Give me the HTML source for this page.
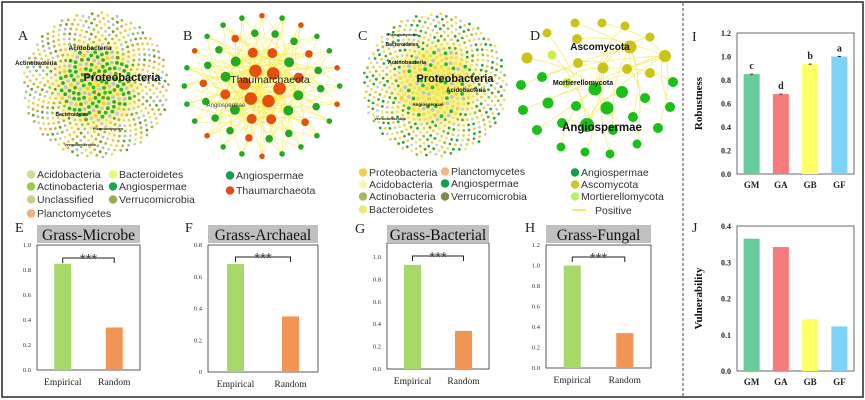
<!DOCTYPE html>
<html><head><meta charset="utf-8"><style>
html,body{margin:0;padding:0;background:#fff;}
svg{display:block;}
.sans{font-family:"Liberation Sans",sans-serif;}
.serif{font-family:"Liberation Serif",serif;}
</style></head><body>
<svg id="fig" width="865" height="400" viewBox="0 0 865 400" xmlns="http://www.w3.org/2000/svg">
<defs>
<radialGradient id="haze" cx="50%" cy="50%" r="50%">
<stop offset="0" stop-color="#f5ee40" stop-opacity="0.9"/>
<stop offset="0.6" stop-color="#f2ef70" stop-opacity="0.6"/>
<stop offset="1" stop-color="#ffffff" stop-opacity="0"/>
</radialGradient>
</defs>
<rect x="2" y="2" width="861" height="395" fill="none" stroke="#333" stroke-width="1.6"/>
<line x1="683" y1="3" x2="683" y2="397" stroke="#444" stroke-width="1" stroke-dasharray="3,2"/>
<g id="nets"></g>
<g id="legends" class="sans" font-size="10.5" fill="#333"></g>
<g id="bars"></g>
<g id="right"></g>
</svg>
<script>
// ---------- chart data ----------
const barCategories = ["Empirical","Random"];
const microbeValues = [0.85, 0.34];
const archaealValues = [0.68, 0.35];
const bacterialValues = [0.93, 0.34];
const fungalValues = [1.0, 0.34];
const ticksE = [0,0.2,0.4,0.6,0.8,1.0];
const ticksF = [0,0.2,0.4,0.6,0.8];
const ticksG = [0,0.2,0.4,0.6,0.8,1.0];
const ticksH = [0,0.2,0.4,0.6,0.8,1.0,1.2];
const groupCategories = ["GM","GA","GB","GF"];
const robustnessValues = [0.85, 0.68, 0.935, 1.0];
const robustnessLetters = ["c","d","b","a"];
const robustnessTicks = [0,0.2,0.4,0.6,0.8,1.0,1.2];
const vulnerabilityValues = [0.365, 0.342, 0.143, 0.123];
const vulnerabilityTicks = [0,0.1,0.2,0.3,0.4];

const NS="http://www.w3.org/2000/svg";
function mk(tag, attrs, parent){const e=document.createElementNS(NS,tag);for(const k in attrs)e.setAttribute(k,attrs[k]);if(parent)parent.appendChild(e);return e;}
function txt(s, attrs, parent){const e=mk("text",attrs,parent);e.textContent=s;return e;}

// ---------- networks ----------
const nets=document.getElementById("nets");
function dense(cx,cy,R,N,palette,inner,id){
  const g=mk("g",{},nets);
  
  
  const h=mk("circle",{cx:cx,cy:cy,r:R*0.85,fill:"url(#haze)"},g);
  
  
  for(let i=0;i<N;i++){
    const r=R*Math.sqrt((i+0.5)/N), t=i*2.39996;
    let col=palette[(i*7)%palette.length];
    if(r<R*0.5 && (i%3)!==0) col=inner[i%inner.length];
    const d=mk("circle",{cx:(cx+r*Math.cos(t)).toFixed(1),cy:(cy+r*Math.sin(t)).toFixed(1),r:(r<R*0.5?1.9:1.4),fill:col},g);
    
    
  }
  return g;
}
const gA=dense(96,85,73,620,["#f0d040","#8cc63f","#e8a040","#c8c8d8","#a0c040","#e0e860","#6a9a30","#f0c848","#b5b5c5"],["#22b83a","#22b83a","#c0c0d0","#2aa840"],"network-a");
const gC=dense(435,85,72,620,["#f0d040","#8cc63f","#2aa840","#f0e060","#c8c8d8","#6a9a30","#f4e070","#1ea838","#e8d050"],["#f0e040","#22b83a","#c0c0d0","#f6e858"],"network-c");
function netLabel(s,x,y,fs,parent){const t=txt(s,{x:x,y:y,"font-size":fs,"font-weight":"bold",fill:"#111","text-anchor":"middle",class:"sans"},parent);return t;}
netLabel("Acidobacteria",90,50,6.5,gA);netLabel("Actinobacteria",36,65,6,gA);netLabel("Proteobacteria",122,81,11,gA);
netLabel("Bacteroidetes",72,116,5,gA);netLabel("Planctomycetes",108,130,4,gA);netLabel("Verrucomicrobia",80,146,4,gA);
netLabel("Planctomycetes",403,36,4,gC);netLabel("Bacteroidetes",402,46,5,gC);netLabel("Actinobacteria",407,64,5.5,gC);
netLabel("Proteobacteria",455,82,11,gC);netLabel("Acidobacteria",466,92,6,gC);netLabel("Angiospermae",428,106,4.5,gC);netLabel("Verrucomicrobia",390,120,4,gC);

// network B
const gB=mk("g",{},nets);


const bNodes=[];
const rings=[[74,24,2.8,"GRGGGGRGGRGGGGRGGGRGRGGR"],[56,18,3.8,"GRGGRGGGRGGRGGGRGG"],[36,12,5,"GRRGRGGRRGRG"],[17,6,6.3,"RRRRRR"]];
rings.forEach((rg,ri)=>{for(let k=0;k<rg[1];k++){const a=k/rg[1]*Math.PI*2+ri*0.4;bNodes.push({x:262+rg[0]*Math.cos(a)*1.05,y:86+rg[0]*Math.sin(a)*0.95,r:rg[2],c:rg[3][k]==="R"?"#e5500a":"#22aa22"});}});
const inner=bNodes.filter(n=>n.r>4.5);
bNodes.forEach((n,i)=>{for(let j=0;j<4;j++){const m=inner[(i*5+j*3)%inner.length];const mx=(n.x+m.x)/2+(j%2?8:-8),my=(n.y+m.y)/2+(j%2?-6:6);const l=mk("path",{d:`M${n.x.toFixed(1)},${n.y.toFixed(1)} Q${mx.toFixed(1)},${my.toFixed(1)} ${m.x.toFixed(1)},${m.y.toFixed(1)}`,fill:"none",stroke:"#f6ee50","stroke-width":0.6,opacity:0.85},gB);}});
bNodes.forEach(n=>{const c=mk("circle",{cx:n.x.toFixed(1),cy:n.y.toFixed(1),r:n.r,fill:n.c},gB);});
txt("Thaumarchaeota",{x:270,y:83,"font-size":10.5,fill:"#222",class:"sans","text-anchor":"middle"},gB);
txt("Angiospermae",{x:226,y:107,"font-size":6,fill:"#444",class:"sans","text-anchor":"middle"},gB);

// network D
const gD=mk("g",{},nets);


const Y="#ccc414",G="#18c018",L="#c8f040";
const dNodes=[[575,23,4.5,Y],[602,23,4.5,Y],[625,26,4.5,Y],[547,33,4.5,Y],[650,37,4.5,Y],[577,39,5,Y],[630,47,6.5,Y],[527,58,5.5,Y],[665,56,6,Y],[578,63,5,Y],[603,68,5.5,Y],[627,69,5,Y],[650,73,5,Y],[552,55,4.5,L],[567,83,5,L],
[521,85,5,G],[542,77,5,G],[595,89,6.5,G],[622,92,6,G],[673,82,5,G],[645,98,5,G],[523,110,5,G],[548,103,5.5,G],[576,106,5,G],[607,108,6.5,G],[633,117,5,G],[670,107,5,G],[537,130,5,G],[562,123,5,G],[587,125,7,G],[613,130,5,G],[658,128,5,G],[561,147,4.5,G],[585,152,4.5,G],[610,154,4.5,G],[637,144,4.5,G]];
const hubs=[6,8,17,29,10];
dNodes.forEach((n,i)=>{const h=dNodes[hubs[i%hubs.length]];if(h===n)return;const mx=(n[0]+h[0])/2+((i%2)?12:-12),my=(n[1]+h[1])/2-8;const p=mk("path",{d:`M${n[0]},${n[1]} Q${mx},${my} ${h[0]},${h[1]}`,fill:"none",stroke:"#f4ec60","stroke-width":0.7},gD);});
dNodes.forEach(n=>{const c=mk("circle",{cx:n[0],cy:n[1],r:n[2],fill:n[3]},gD);});
netLabel("Ascomycota",600,50,10,gD);netLabel("Mortierellomycota",583,85,7,gD);netLabel("Angiospermae",602,131,11.5,gD);

// panel letters
[["A",18,40],["B",183,40],["C",358,40],["D",530,40],["E",15,232],["F",185,232],["G",355,233],["H",525,232],["I",692,41],["J",692,232]].forEach(l=>{
  const t=txt(l[0],{x:l[1],y:l[2],"font-size":14,class:"serif",fill:"#222"},nets);
  
  
});

// legends
const lg=document.getElementById("legends");
function leg(x,y,col,s){const c=mk("circle",{cx:x,cy:y-3.5,r:4.2,fill:col},lg);const t=txt(s,{x:x+6,y:y},lg);}
leg(31,178,"#d0dc98","Acidobacteria");leg(31,190,"#98cc48","Actinobacteria");leg(31,203,"#d0cc90","Unclassified");leg(31,217,"#f4b07a","Planctomycetes");
leg(113,178,"#e8f870","Bacteroidetes");leg(113,190,"#18a850","Angiospermae");leg(113,203,"#9aaa58","Verrucomicrobia");
leg(230,179,"#10a050","Angiospermae");leg(230,194,"#e84818","Thaumarchaeota");
leg(363,176,"#f0d050","Proteobacteria");leg(363,188,"#f6f6b8","Acidobacteria");leg(363,200,"#a8b468","Actinobacteria");leg(363,213,"#f0e878","Bacteroidetes");
leg(445,175,"#f4b888","Planctomycetes");leg(445,187,"#10a050","Angiospermae");leg(445,200,"#7e8a48","Verrucomicrobia");
leg(575,176,"#10a050","Angiospermae");leg(575,188,"#c8c828","Ascomycota");leg(575,200,"#b8f070","Mortierellomycota");
const pl=mk("line",{x1:572,y1:210,x2:586,y2:210,stroke:"#f0e040","stroke-width":1.5},lg);
const pt=txt("Positive",{x:595,y:214},lg);

// ---------- bar panels E-H ----------
const barsG=document.getElementById("bars");
function barPanel(name,title,vals,ticks,x0,x1,yTop,yBot,yMaxVal,tickFmt,brY){
  const g=mk("g",{},barsG);
  
  
  const y=v=>yBot-(v/yMaxVal)*(yBot-yTop);
  const slot=(x1-x0)/2;
  const xc=i=>x0+slot*(i+0.5);
  const fr=mk("rect",{x:x0,y:yTop,width:x1-x0,height:yBot-yTop,fill:"none",stroke:"#333","stroke-width":0.8},g);
  
  const tb=mk("rect",{x:x0,y:225,width:x1-x0,height:18,fill:"#c0c0c0"},g);
  
  const tt=txt(title,{x:(x0+x1)/2,y:240,"font-size":15.5,"text-anchor":"middle",class:"serif",fill:"#111"},g);
  
  ticks.forEach(v=>{const t=txt(tickFmt(v),{x:x0-6,y:y(v)+2,"font-size":6.5,"text-anchor":"end",class:"serif",fill:"#333"},g);});
  const cols=["#a6d96a","#f29554"];
  vals.forEach((v,i)=>{const b=mk("rect",{x:xc(i)-8.5,y:y(v),width:17,height:yBot-y(v),fill:cols[i]},g);
    const l=txt(barCategories[i],{x:xc(i),y:yBot+15,"font-size":9.5,"text-anchor":"middle",class:"serif",fill:"#222"},g);});
  const br=mk("path",{d:`M${xc(0)},${brY+5} V${brY} H${xc(1)} V${brY+5}`,fill:"none",stroke:"#222","stroke-width":1},g);
  
  const st=txt("***",{x:(xc(0)+xc(1))/2,y:brY+6,"font-size":15,"text-anchor":"middle",class:"sans",fill:"#444"},g);
  
}
const f1=v=>v.toFixed(1);
barPanel("chart-grass-microbe","Grass-Microbe",microbeValues,ticksE,37,140,245,370,1.0,f1,258);
barPanel("chart-grass-archaeal","Grass-Archaeal",archaealValues,ticksF,208,318,245,372,0.8,v=>v===0?"0":f1(v),257);
barPanel("chart-grass-bacterial","Grass-Bacterial",bacterialValues,ticksG,387,489,243,369,1.125,f1,256);
barPanel("chart-grass-fungal","Grass-Fungal",fungalValues,ticksH,546,651,245,368,1.2,f1,257);

// ---------- right panels I, J ----------
const rg=document.getElementById("right");
const groupCols=["#66cc99","#f77b7b","#ffff66","#7dd3f5"];
function groupPanel(name,axisTitle,vals,ticks,yTop,yBot,yMaxVal,fmt,letters,errs){
  const g=mk("g",{},rg);
  
  
  const x0=737,x1=854;
  const y=v=>yBot-(v/yMaxVal)*(yBot-yTop);
  const slot=(x1-x0)/4, xc=i=>x0+slot*(i+0.5);
  const fr=mk("rect",{x:x0,y:yTop,width:x1-x0,height:yBot-yTop,fill:"none",stroke:"#444","stroke-width":0.8},g);
  
  ticks.forEach(v=>{const t=txt(fmt(v),{x:x0-6,y:y(v)+3,"font-size":8,"font-weight":"bold","text-anchor":"end",class:"serif",fill:"#222"},g);});
  vals.forEach((v,i)=>{
    const b=mk("rect",{x:xc(i)-8,y:y(v),width:16,height:yBot-y(v),fill:groupCols[i]},g);
    
    const l=txt(groupCategories[i],{x:xc(i),y:yBot+14,"font-size":9,"font-weight":"bold","text-anchor":"middle",class:"serif",fill:"#222"},g);
    
    if(errs){const e=mk("line",{x1:xc(i)-1.5,y1:y(v),x2:xc(i)+1.5,y2:y(v),stroke:"#222","stroke-width":1},g);}
    if(letters){const s=txt(letters[i],{x:xc(i),y:y(v)-5,"font-size":10,"font-weight":"bold","text-anchor":"middle",class:"serif",fill:"#222"},g);}
  });
  const yt=txt(axisTitle,{x:0,y:0,"font-size":11,"font-weight":"bold","text-anchor":"middle",class:"serif",fill:"#111",transform:`translate(702,${(yTop+yBot)/2}) rotate(-90)`},g);
  
}
groupPanel("chart-robustness","Robustness",robustnessValues,robustnessTicks,33,174,1.2,f1,robustnessLetters,true);
groupPanel("chart-vulnerability","Vulnerability",vulnerabilityValues,vulnerabilityTicks,226,371,0.4,f1,null,false);
</script>
</body></html>
